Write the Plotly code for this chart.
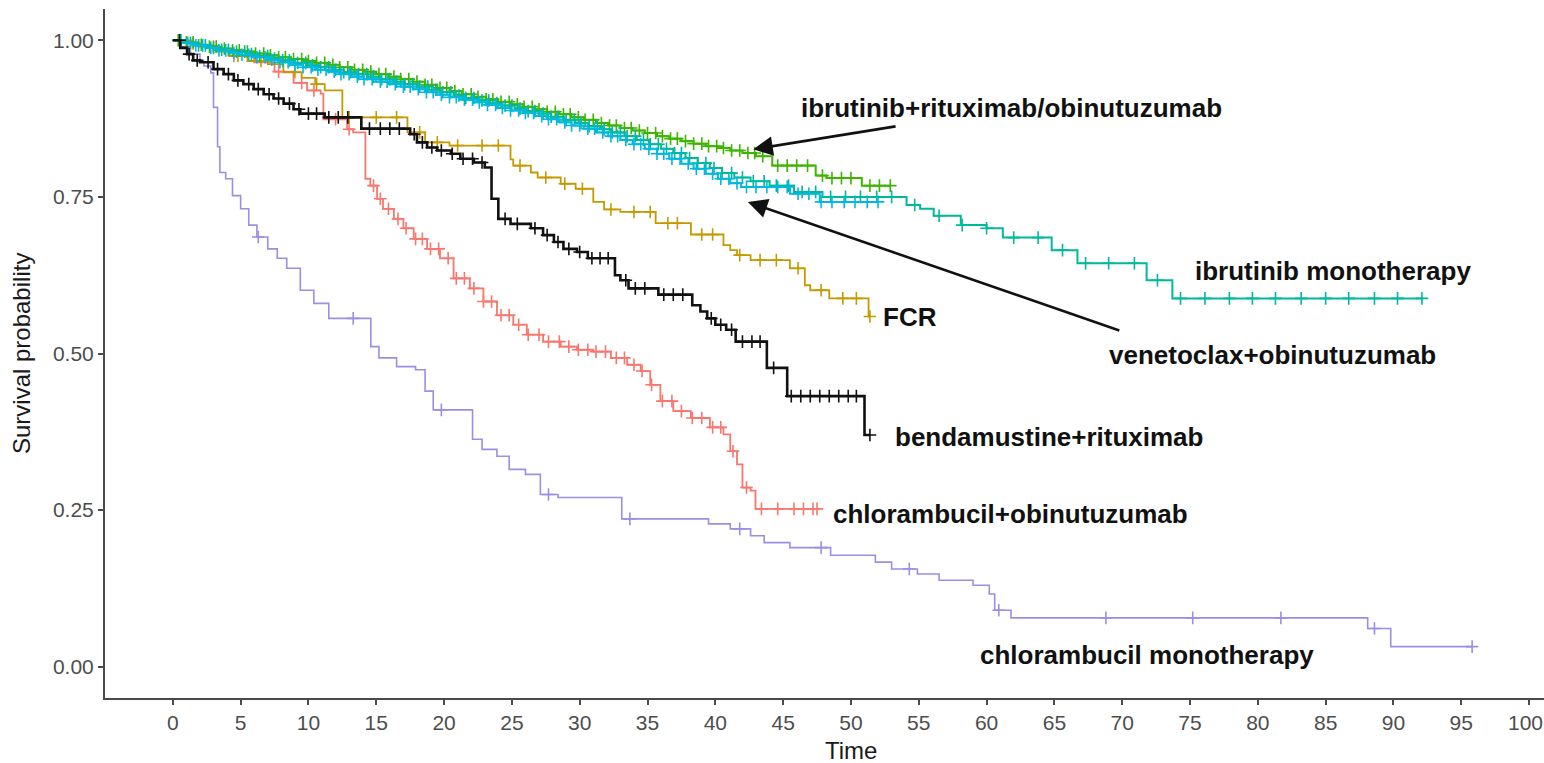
import numpy as np
import plotly.graph_objects as go

# ---- Kaplan-Meier step data: event times (months) and survival after each step ----
chl_mono_t = [0, 0.6, 1.3, 2.0, 2.3, 2.8, 3.0, 3.3, 3.47, 3.9, 4.4, 5.0, 5.6, 6.2, 7.0, 7.7, 8.4,
              9.4, 10.4, 11.5, 14.6, 15.2, 16.5, 17.9, 18.6, 19.2, 22.1, 22.8, 23.9, 24.8, 26.0,
              27.1, 28.4, 33.1, 39.5, 41.1, 42.6, 43.6, 45.5, 48.5, 51.8, 53.0, 54.9, 56.5, 59.0,
              60.2, 60.6, 61.8, 88.1, 89.8, 95.8]
chl_mono_s = [1.0, 0.99, 0.978, 0.966, 0.959, 0.948, 0.893, 0.83, 0.789, 0.779, 0.752, 0.731, 0.705,
              0.686, 0.667, 0.652, 0.636, 0.601, 0.58, 0.556, 0.511, 0.493, 0.479, 0.474, 0.44, 0.41,
              0.363, 0.347, 0.336, 0.315, 0.307, 0.275, 0.27, 0.236, 0.228, 0.22, 0.209, 0.198, 0.19,
              0.178, 0.167, 0.156, 0.148, 0.138, 0.13, 0.116, 0.09, 0.078, 0.061, 0.032, 0.032]
chl_mono_cens = [6.3, 13.3, 19.8, 27.7, 33.7, 41.8, 47.8, 54.3, 60.9, 68.8, 75.2, 81.7, 88.6, 95.8]

chl_obi_t = [0, 1.5, 3.0, 4.5, 6.0, 7.5, 8.9, 9.9, 10.9, 11.1, 12.85, 13.3, 14.2, 14.56, 15.06,
             15.5, 16.3, 17.0, 17.76, 18.75, 19.7, 20.7, 21.9, 22.9, 23.9, 25.1, 26.1, 27.3, 28.6,
             29.8, 31.0, 32.3, 33.5, 34.5, 35.2, 35.95, 36.9, 38.2, 39.6, 40.6, 41.1, 41.6, 42.0,
             42.6, 42.96, 47.5]
chl_obi_s = [1.0, 0.992, 0.984, 0.975, 0.965, 0.95, 0.932, 0.92, 0.915, 0.874, 0.858, 0.853, 0.779,
             0.768, 0.747, 0.731, 0.715, 0.7, 0.683, 0.667, 0.652, 0.62, 0.604, 0.583, 0.561, 0.546,
             0.53, 0.519, 0.511, 0.506, 0.503, 0.493, 0.482, 0.472, 0.45, 0.424, 0.408, 0.397, 0.382,
             0.371, 0.344, 0.323, 0.286, 0.281, 0.252, 0.252]
chl_obi_cens = [4.5, 7.8, 9.5, 10.4, 12.0, 13.0, 14.8, 15.3, 15.9, 16.6, 17.2, 17.9, 18.4, 19.0,
                19.6, 20.3, 20.9, 21.5, 22.2, 22.9, 23.5, 24.2, 24.8, 25.5, 26.2, 27.0, 27.7, 28.5,
                29.2, 29.9, 30.6, 31.2, 31.9, 32.7, 33.3, 34.0, 34.6, 35.3, 36.1, 36.8, 37.5, 38.3,
                39.0, 39.8, 40.4, 41.3, 42.3, 43.4, 44.6, 45.8, 46.5, 47.2, 47.5]

fcr_t = [0, 1.0, 2.0, 3.2, 4.2, 5.5, 7.0, 8.15, 9.5, 10.5, 11.2, 12.5, 17.3, 18.6, 20.4, 24.9,
         25.1, 26.4, 26.9, 28.6, 29.7, 31.0, 31.8, 33.0, 35.6, 38.2, 40.6, 41.1, 41.6, 42.6, 45.5,
         46.6, 47.0, 48.4, 51.3, 51.4]
fcr_s = [1.0, 0.995, 0.99, 0.982, 0.975, 0.967, 0.962, 0.949, 0.94, 0.93, 0.92, 0.877, 0.853,
         0.837, 0.832, 0.81, 0.8, 0.789, 0.781, 0.771, 0.763, 0.742, 0.73, 0.726, 0.708, 0.69,
         0.673, 0.665, 0.657, 0.649, 0.636, 0.609, 0.601, 0.588, 0.559, 0.559]
fcr_cens = [1.5, 3.0, 4.8, 6.5, 9.0, 10.6, 13.0, 15.0, 16.5, 18.2, 19.5, 21.0, 22.8, 24.0, 25.6,
            27.5, 28.9, 30.2, 32.3, 34.0, 35.2, 36.5, 37.2, 39.0, 39.8, 41.8, 43.3, 44.5, 46.1,
            47.8, 49.4, 50.4, 51.4]

benda_t = [0, 0.55, 1.05, 1.5, 2.0, 3.0, 3.75, 4.5, 5.2, 5.96, 6.7, 7.43, 8.17, 8.9, 9.4, 11.2,
           13.9, 17.5, 18.0, 18.75, 19.5, 20.5, 21.2, 22.2, 23.0, 23.5, 24.0, 24.9, 26.4, 27.3,
           28.1, 28.8, 29.8, 30.6, 32.6, 33.0, 33.6, 35.8, 38.3, 38.9, 39.4, 40.0, 40.8, 41.5,
           43.8, 45.3, 51.0, 51.4]
benda_s = [1.0, 0.988, 0.978, 0.968, 0.965, 0.954, 0.946, 0.936, 0.93, 0.922, 0.914, 0.907, 0.899,
           0.89, 0.883, 0.877, 0.859, 0.85, 0.837, 0.829, 0.824, 0.819, 0.811, 0.805, 0.797, 0.747,
           0.715, 0.707, 0.7, 0.689, 0.678, 0.667, 0.662, 0.652, 0.625, 0.617, 0.604, 0.594, 0.577,
           0.567, 0.556, 0.546, 0.538, 0.519, 0.477, 0.432, 0.37, 0.37]
benda_cens = [0.5, 1.2, 1.8, 2.6, 3.3, 4.1, 4.8, 5.6, 6.3, 7.1, 7.8, 8.6, 9.3, 10.0, 10.6, 11.5,
              12.2, 12.9, 14.5, 15.3, 16.0, 16.7, 17.8, 18.4, 19.1, 19.8, 20.6, 21.4, 22.1, 22.8,
              24.5, 25.4, 26.7, 27.6, 28.4, 29.2, 30.0, 30.9, 31.5, 32.1, 33.4, 34.1, 34.8, 36.2,
              36.9, 37.6, 39.7, 40.4, 41.2, 42.0, 42.7, 43.3, 44.3, 45.6, 46.3, 47.0, 47.7, 48.4,
              49.1, 49.8, 50.4, 51.4]

ibr_ro_t = [0, 0.8, 1.6, 2.5, 3.4, 4.3, 5.2, 6.0, 6.9, 7.8, 8.7, 9.6, 10.5, 11.4, 12.3, 13.2, 14.1,
            15.0, 15.9, 16.8, 17.7, 18.6, 19.5, 20.4, 21.3, 22.2, 23.1, 24.0, 24.9, 25.8, 26.7,
            27.6, 28.5, 29.4, 30.3, 31.2, 32.1, 33.0, 33.9, 34.8, 35.7, 36.6, 37.5, 38.4, 39.3,
            40.2, 41.1, 42.0, 43.0, 44.2, 47.4, 48.2, 50.8, 52.9]
ibr_ro_s = [1.0, 0.997, 0.993, 0.99, 0.987, 0.984, 0.982, 0.979, 0.976, 0.973, 0.97, 0.967, 0.964,
            0.961, 0.957, 0.953, 0.95, 0.946, 0.942, 0.938, 0.934, 0.929, 0.924, 0.919, 0.914, 0.91,
            0.906, 0.902, 0.898, 0.894, 0.89, 0.886, 0.882, 0.877, 0.873, 0.868, 0.864, 0.86, 0.856,
            0.852, 0.847, 0.843, 0.839, 0.835, 0.831, 0.828, 0.824, 0.82, 0.815, 0.8, 0.784, 0.78,
            0.768, 0.768]
ibr_ro_cens = [0.4, 1.0, 1.5, 2.1, 2.7, 3.2, 3.8, 4.4, 4.9, 5.5, 6.1, 6.7, 7.2, 7.8, 8.3, 8.9, 9.5,
               10.0, 10.6, 11.2, 11.8, 12.3, 12.9, 13.4, 14.0, 14.6, 15.2, 15.7, 16.3, 16.8, 17.4,
               18.0, 18.6, 19.1, 19.7, 20.2, 20.8, 21.4, 22.0, 22.5, 23.1, 23.6, 24.2, 24.8, 25.4,
               25.9, 26.5, 27.0, 27.6, 28.2, 28.8, 29.3, 29.9, 30.4, 31.0, 31.6, 32.2, 32.7, 33.3,
               33.8, 34.4, 35.0, 35.6, 36.1, 36.7, 37.2, 37.8, 38.4, 39.0, 39.5, 40.1, 40.6, 41.2,
               41.8, 42.4, 42.9, 43.5, 44.6, 45.3, 46.0, 46.8, 47.9, 48.6, 49.3, 50.0, 51.4, 52.1,
               52.9]

ibr_mono_t = [0, 0.9, 1.8, 2.7, 3.6, 4.5, 5.4, 6.3, 7.2, 8.1, 9.0, 9.9, 10.8, 11.7, 12.6, 13.5,
              14.4, 15.3, 16.2, 17.1, 18.0, 18.9, 19.8, 20.7, 21.6, 22.5, 23.4, 24.3, 25.2, 26.1,
              27.0, 27.9, 28.8, 29.7, 30.6, 31.5, 32.4, 33.3, 34.2, 35.1, 36.0, 36.9, 37.8, 38.7,
              39.6, 40.5, 41.4, 42.6, 44.0, 45.8, 47.9, 54.1, 55.1, 56.1, 58.1, 60.0, 61.2, 64.8,
              66.7, 71.8, 73.7, 92.2]
ibr_mono_s = [1.0, 0.996, 0.992, 0.988, 0.985, 0.982, 0.978, 0.975, 0.971, 0.968, 0.964, 0.96,
              0.957, 0.953, 0.949, 0.946, 0.942, 0.938, 0.934, 0.93, 0.926, 0.921, 0.917, 0.912,
              0.908, 0.904, 0.9, 0.896, 0.891, 0.887, 0.883, 0.878, 0.873, 0.868, 0.863, 0.858,
              0.853, 0.847, 0.841, 0.834, 0.827, 0.82, 0.812, 0.804, 0.796, 0.788, 0.781, 0.775,
              0.768, 0.758, 0.75, 0.737, 0.731, 0.72, 0.705, 0.7, 0.685, 0.665, 0.644, 0.617,
              0.588, 0.588]
ibr_mono_cens = [0.6, 1.3, 1.9, 2.4, 3.0, 3.6, 4.1, 4.7, 5.3, 5.8, 6.4, 7.0, 7.5, 8.1, 8.6, 9.2,
                 9.8, 10.3, 10.9, 11.5, 12.0, 12.6, 13.1, 13.7, 14.3, 14.8, 15.4, 16.0, 16.5, 17.1,
                 17.7, 18.2, 18.8, 19.4, 19.9, 20.5, 21.1, 21.6, 22.2, 22.8, 23.3, 23.9, 24.5,
                 25.0, 25.6, 26.2, 26.7, 27.3, 27.9, 28.4, 29.0, 29.6, 30.1, 30.7, 31.3, 31.8,
                 32.4, 33.0, 33.5, 34.1, 34.7, 35.2, 35.8, 36.4, 37.0, 37.5, 38.1, 38.7, 39.3,
                 39.9, 40.5, 41.2, 42.0, 42.8, 43.6, 44.5, 45.4, 46.4, 47.4, 48.5, 49.6, 50.7,
                 51.9, 53.0, 54.7, 56.5, 58.2, 60.0, 62.0, 63.8, 65.6, 67.3, 69.0, 70.9, 72.6,
                 74.3, 76.1, 77.9, 79.6, 81.3, 83.2, 85.0, 86.7, 88.6, 90.3, 92.1]

ven_obi_t = [0, 0.7, 1.5, 2.4, 3.3, 4.2, 5.1, 6.0, 6.9, 7.8, 8.7, 9.6, 10.5, 11.4, 12.3, 13.2,
             14.1, 15.0, 15.9, 16.8, 17.7, 18.6, 19.5, 20.4, 21.3, 22.2, 23.1, 24.0, 24.9, 25.8,
             26.7, 27.6, 28.5, 29.4, 30.3, 31.2, 32.1, 33.0, 33.9, 34.8, 35.7, 36.6, 37.5, 38.4,
             39.3, 40.2, 41.1, 41.9, 45.5, 47.7, 52.0]
ven_obi_s = [1.0, 0.996, 0.992, 0.988, 0.984, 0.98, 0.977, 0.973, 0.969, 0.965, 0.961, 0.957,
             0.953, 0.95, 0.946, 0.942, 0.938, 0.934, 0.93, 0.926, 0.922, 0.917, 0.913, 0.909,
             0.905, 0.901, 0.897, 0.892, 0.888, 0.884, 0.879, 0.874, 0.869, 0.864, 0.859, 0.853,
             0.847, 0.841, 0.834, 0.827, 0.819, 0.811, 0.803, 0.795, 0.787, 0.779, 0.772, 0.766,
             0.755, 0.742, 0.742]
ven_obi_cens = [0.5, 1.1, 1.7, 2.2, 2.8, 3.4, 3.9, 4.5, 5.1, 5.6, 6.2, 6.8, 7.3, 7.9, 8.5, 9.0,
                9.6, 10.2, 10.7, 11.3, 11.9, 12.4, 13.0, 13.6, 14.1, 14.7, 15.3, 15.8, 16.4, 17.0,
                17.5, 18.1, 18.7, 19.2, 19.8, 20.4, 20.9, 21.5, 22.1, 22.6, 23.2, 23.8, 24.3,
                24.9, 25.5, 26.0, 26.6, 27.2, 27.7, 28.3, 28.9, 29.4, 30.0, 30.6, 31.1, 31.7,
                32.3, 32.8, 33.4, 34.0, 34.5, 35.1, 35.7, 36.2, 36.8, 37.4, 38.0, 38.6, 39.2,
                39.8, 40.4, 41.0, 41.6, 42.3, 43.0, 43.8, 44.6, 45.3, 46.1, 46.9, 47.8, 48.6,
                49.5, 50.3, 51.2, 52.0]

# ---- axis tick labels ----
x_ticks = [0, 5, 10, 15, 20, 25, 30, 35, 40, 45, 50, 55, 60, 65, 70, 75, 80, 85, 90, 95, 100]
y_ticks = [0.0, 0.25, 0.5, 0.75, 1.0]
y_ticklabels = ["0.00", "0.25", "0.50", "0.75", "1.00"]

curves = [
    # (times, survival, censor times, colour, line width)
    (chl_mono_t, chl_mono_s, chl_mono_cens, "#9C8FE3", 1.6),
    (chl_obi_t, chl_obi_s, chl_obi_cens, "#F8766D", 1.8),
    (fcr_t, fcr_s, fcr_cens, "#C49A00", 1.8),
    (ibr_ro_t, ibr_ro_s, ibr_ro_cens, "#3DB400", 2.0),
    (ibr_mono_t, ibr_mono_s, ibr_mono_cens, "#00B89A", 2.0),
    (ven_obi_t, ven_obi_s, ven_obi_cens, "#00B8E0", 2.0),
    (benda_t, benda_s, benda_cens, "#111111", 2.6),
]


def surv_at(times, surv, t):
    """Survival value of a right-continuous step curve at time t."""
    idx = np.searchsorted(np.asarray(times), np.asarray(t), side="right") - 1
    return np.asarray(surv)[np.clip(idx, 0, len(surv) - 1)]


fig = go.Figure()
for t, s, cens, col, lw in curves:
    fig.add_trace(go.Scatter(x=t, y=s, mode="lines", line=dict(color=col, width=lw, shape="hv"),
                             hoverinfo="skip", showlegend=False))
    fig.add_trace(go.Scatter(x=cens, y=surv_at(t, s, cens), mode="markers",
                             marker=dict(symbol="cross-thin", size=9,
                                         line=dict(color=col, width=1.6)),
                             hoverinfo="skip", showlegend=False))

label_font = dict(family="Liberation Sans, Arial, sans-serif", size=26, color="#111111")
labels = [
    ("<b>ibrutinib+rituximab/obinutuzumab</b>", 46.2, 0.892),
    ("<b>ibrutinib monotherapy</b>", 75.2, 0.631),
    ("<b>FCR</b>", 52.2, 0.559),
    ("<b>venetoclax+obinutuzumab</b>", 68.9, 0.497),
    ("<b>bendamustine+rituximab</b>", 53.1, 0.366),
    ("<b>chlorambucil+obinutuzumab</b>", 48.5, 0.243),
    ("<b>chlorambucil monotherapy</b>", 59.4, 0.019),
]
for txt, lx, ly in labels:
    fig.add_annotation(x=lx, y=ly, text=txt, showarrow=False, xanchor="left", yanchor="middle",
                       font=label_font)

# pointer arrows from the labels to their curves
arrows = [((53.4, 0.863), (42.8, 0.826)), ((69.9, 0.536), (42.4, 0.742))]
for (tx, ty), (hx, hy) in arrows:
    fig.add_annotation(x=hx, y=hy, ax=tx, ay=ty, xref="x", yref="y", axref="x", ayref="y",
                       text="", showarrow=True, arrowhead=2, arrowsize=1.5, arrowwidth=2.6,
                       arrowcolor="#111111", standoff=0, startstandoff=0)

tick_font = dict(family="Liberation Sans, Arial, sans-serif", size=21, color="#4D4D4D")
axis_title_font = dict(family="Liberation Sans, Arial, sans-serif", size=24, color="#1a1a1a")
fig.add_annotation(x=50, y=-0.076, xref="x", yref="paper", text="Time", showarrow=False,
                   xanchor="center", yanchor="middle", font=axis_title_font)
fig.add_annotation(x=-0.058, y=0.5, xref="paper", yref="paper", text="Survival probability",
                   textangle=-90, showarrow=False, xanchor="center", yanchor="middle",
                   font=axis_title_font)
# the last tick label sits at the very edge of the page, so it is placed by hand
fig.add_annotation(x=x_ticks[-1], y=-0.035, xref="x", yref="paper", text=str(x_ticks[-1]),
                   showarrow=False, xanchor="center", yanchor="middle", xshift=-4,
                   font=tick_font)

fig.update_xaxes(range=[-5, 101.1], tickvals=x_ticks,
                 ticktext=[str(v) for v in x_ticks[:-1]] + [""],
                 showline=True, linecolor="#4a4a4a", linewidth=2, ticks="outside", ticklen=5,
                 tickwidth=1.5, tickcolor="#4a4a4a", showgrid=False, zeroline=False,
                 tickfont=tick_font)
fig.update_yaxes(range=[-0.05, 1.05], tickvals=y_ticks, ticktext=y_ticklabels,
                 showline=True, linecolor="#4a4a4a", linewidth=2, ticks="outside", ticklen=5,
                 tickwidth=1.5, tickcolor="#4a4a4a", showgrid=False, zeroline=False,
                 tickfont=tick_font)

fig.update_layout(width=1544, height=763, margin=dict(l=105, r=0, t=9, b=65),
                  plot_bgcolor="white", paper_bgcolor="white", showlegend=False)

fig.write_html("out.html")
